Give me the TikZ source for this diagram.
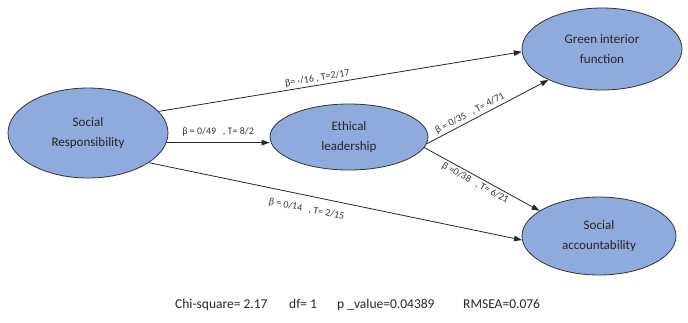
\documentclass[tikz,border=0pt]{standalone}
\usepackage{fontspec}
\setmainfont{Carlito}
\usetikzlibrary{shapes.geometric,arrows.meta}
\definecolor{varblue}{HTML}{8FAADC}

\begin{document}
\begin{tikzpicture}[x=1pt,y=-1pt,
  var/.style={ellipse,draw=black!80,line width=0.8pt,fill=varblue,inner sep=0pt,
    align=center,text=black!85,font=\fontsize{13}{20}\selectfont},
  effect/.style={-{Triangle[length=8pt,width=5.5pt]},line width=0.8pt,black!85},
  coef/.style={sloped,inner sep=2pt,text=black!80,font=\fontsize{10}{12}\selectfont},
  fitstat/.style={anchor=base west,inner sep=0pt,text=black!85,font=\fontsize{13.5}{15}\selectfont}]
  \useasboundingbox (0,0) rectangle (688,322);

  \node[var,minimum width=160pt,minimum height=90pt] (sr) at (88,133) {Social\\Responsibility};
  \node[var,minimum width=158pt,minimum height=66pt] (el) at (349,137) {Ethical\\leadership};
  \node[var,minimum width=160pt,minimum height=82pt] (gif) at (602,49) {Green interior\\function};
  \node[var,minimum width=154pt,minimum height=78pt] (sa) at (599,236) {Social\\accountability};

  \draw[effect] (sr.17) -- (gif.182) node[coef,above,pos=0.44] {β= ·/16 , T=2/17};
  \draw[effect] (sr.-7) -- (sr.-7 -| el.west) node[coef,above,pos=0.5,yshift=4pt] {β = 0/49\ \ \ , T= 8/2};
  \draw[effect] (sr.-26) -- (sa.183) node[coef,below,pos=0.43,yshift=-7pt] {β = 0/14\ \ \ , T= 2/15};
  \draw[effect] (el.-5) -- (gif.-150) node[coef,above,pos=0.38] {β = 0/35\ \ \ , T= 4/71};
  \draw[effect] (el.-8) -- (sa.157) node[coef,below,pos=0.47] {β =0/38\ \ \ , T= 6/21};

  % fit indices
  \node[fitstat] (chi) at (175,308) {Chi-square= 2.17};
  \node[fitstat] (df) at (289,308) {df= 1};
  \node[fitstat] (pval) at (337,308) {p \_value=0.04389};
  \node[fitstat] (rmsea) at (463,308) {RMSEA=0.076};
\end{tikzpicture}
\end{document}
